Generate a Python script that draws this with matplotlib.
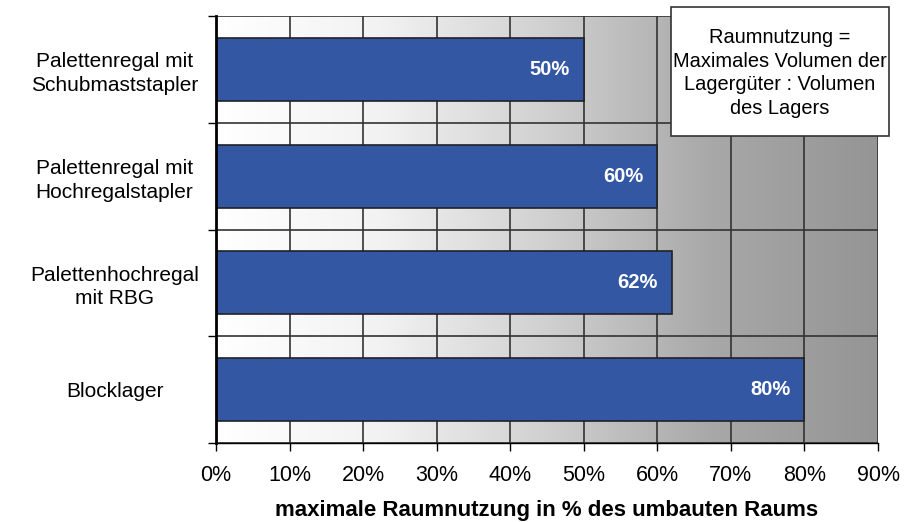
import numpy as np
import matplotlib.pyplot as plt
from matplotlib.colors import LinearSegmentedColormap
from matplotlib.patches import Rectangle

plt.rcParams['font.family'] = ['Liberation Sans', 'DejaVu Sans']

categories = ['Palettenregal mit\nSchubmaststapler', 'Palettenregal mit\nHochregalstapler',
              'Palettenhochregal\nmit RBG', 'Blocklager']
values = [50, 60, 62, 80]
xticks = [0, 10, 20, 30, 40, 50, 60, 70, 80, 90]

fig = plt.figure(figsize=(9.07, 5.22), dpi=100)
ax = fig.add_axes([216 / 907, 1 - 443 / 522, 662 / 907, 427 / 522])

n = len(categories)
ypos = np.arange(n)[::-1]

# grey gradient in the background, white on the left
cmap = LinearSegmentedColormap.from_list('bg', ['#ffffff', '#f2f2f2', '#d0d0d0', '#a8a8a8', '#959595'])
grad = np.linspace(0, 1, 256).reshape(1, -1)
ax.imshow(grad, cmap=cmap, aspect='auto', extent=[0, 90, -0.5, n - 0.5], zorder=0)

for x in xticks[1:]:
    ax.axvline(x, color='#333333', lw=1.2, zorder=1)
for y in np.arange(n + 1) - 0.5:
    ax.axhline(y, color='#333333', lw=1.2, zorder=1)

ax.barh(ypos, values, height=0.59, color='#3457a4', edgecolor='#222222', lw=1.2, zorder=2)
for y, v in zip(ypos, values):
    ax.text(v - 1.9, y, f'{v}%', ha='right', va='center', color='white',
            fontsize=14.5, fontweight='bold', zorder=3)

ax.set_xlim(0, 90)
ax.set_ylim(-0.5, n - 0.5)
ax.set_xticks(xticks)
ax.set_xticklabels([f'{x}%' for x in xticks], fontsize=15.5)
ax.set_yticks(ypos)
ax.set_yticklabels(categories, fontsize=15, ha='center', linespacing=1.3)
ax.tick_params(axis='y', length=0, pad=73)
ax.tick_params(axis='x', length=6, width=1, pad=10)
ax.set_yticks(np.arange(n + 1) - 0.5, minor=True)
ax.tick_params(axis='y', which='minor', length=6, width=1)

for s in ['top', 'right']:
    ax.spines[s].set_visible(False)
ax.spines['left'].set_linewidth(2)
ax.spines['bottom'].set_linewidth(1)

ax.set_xlabel('maximale Raumnutzung in % des umbauten Raums', fontsize=16,
              fontweight='bold', labelpad=10)

# definition box in the upper right corner
fig.patches.append(Rectangle((671 / 907, 1 - 136 / 522), 218 / 907, 129 / 522,
                             transform=fig.transFigure, fc='white', ec='#333333',
                             lw=1.2, zorder=5))
fig.text(780 / 907, 1 - 73 / 522,
         'Raumnutzung =\nMaximales Volumen der\nLagergüter : Volumen\ndes Lagers',
         ha='center', va='center', fontsize=14.4, linespacing=1.32, zorder=6)

fig.savefig('out.png', dpi=100)
